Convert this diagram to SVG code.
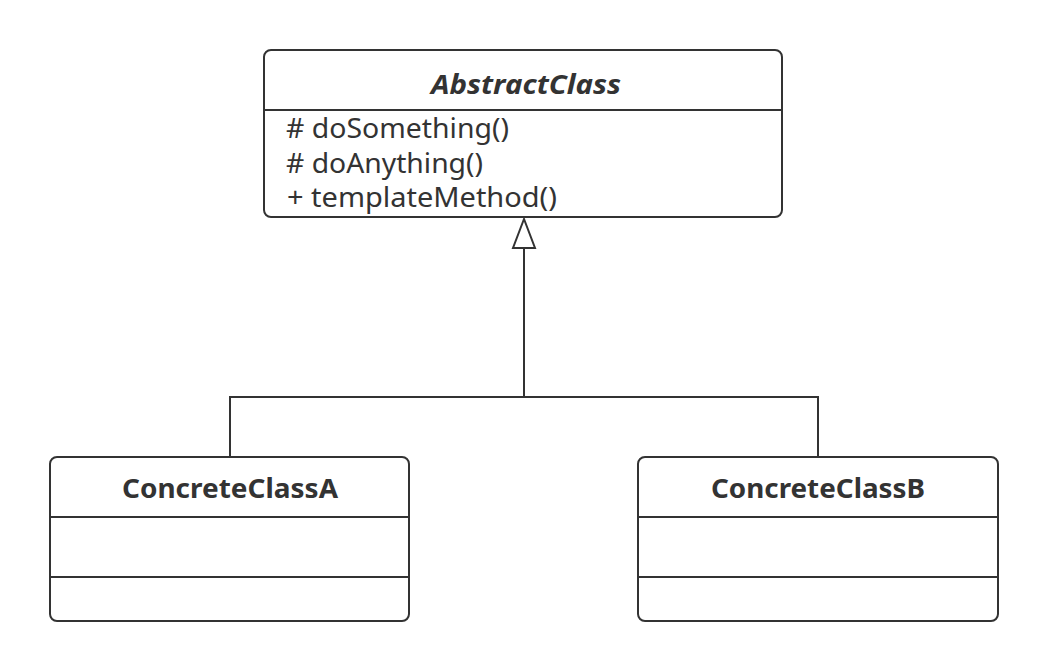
<svg xmlns="http://www.w3.org/2000/svg" width="1048" height="671" viewBox="0 0 1048 671">
<style>
.box{fill:#fff;stroke:#333;stroke-width:2}
.div{stroke:#333;stroke-width:2}
.title{font-family:"Noto Sans","Open Sans",sans-serif;font-size:26px;font-weight:bold;fill:#333}
.member{font-family:"Noto Sans","Open Sans",sans-serif;font-size:27px;fill:#333}
.conn{fill:none;stroke:#333;stroke-width:2}
</style>
<rect width="1048" height="671" fill="#fff"/>
<g id="connectors">
<polyline class="conn" points="230,457 230,397 818,397 818,457"/>
<line class="conn" x1="524" y1="397" x2="524" y2="248"/>
<polygon points="524,219 513,248 535,248" fill="#fff" stroke="#333" stroke-width="2"/>
</g>
<g id="AbstractClass">
<rect class="box" x="264" y="50" width="518" height="167" rx="7"/>
<line class="div" x1="264" y1="110" x2="782" y2="110"/>
<text class="title" x="431" y="94" font-style="italic" textLength="190" lengthAdjust="spacingAndGlyphs">AbstractClass</text>
<text class="member" x="286" y="138" textLength="223" lengthAdjust="spacingAndGlyphs"># doSomething()</text>
<text class="member" x="286" y="173" textLength="197" lengthAdjust="spacingAndGlyphs"># doAnything()</text>
<text class="member" x="287" y="207" textLength="270" lengthAdjust="spacingAndGlyphs">+ templateMethod()</text>
</g>
<g id="ConcreteClassA">
<rect class="box" x="50" y="457" width="359" height="164" rx="7"/>
<line class="div" x1="50" y1="517" x2="409" y2="517"/>
<line class="div" x1="50" y1="577" x2="409" y2="577"/>
<text class="title" x="122" y="498" textLength="216" lengthAdjust="spacingAndGlyphs">ConcreteClassA</text>
</g>
<g id="ConcreteClassB">
<rect class="box" x="638" y="457" width="360" height="164" rx="7"/>
<line class="div" x1="638" y1="517" x2="998" y2="517"/>
<line class="div" x1="638" y1="577" x2="998" y2="577"/>
<text class="title" x="711" y="498" textLength="214" lengthAdjust="spacingAndGlyphs">ConcreteClassB</text>
</g>
</svg>
